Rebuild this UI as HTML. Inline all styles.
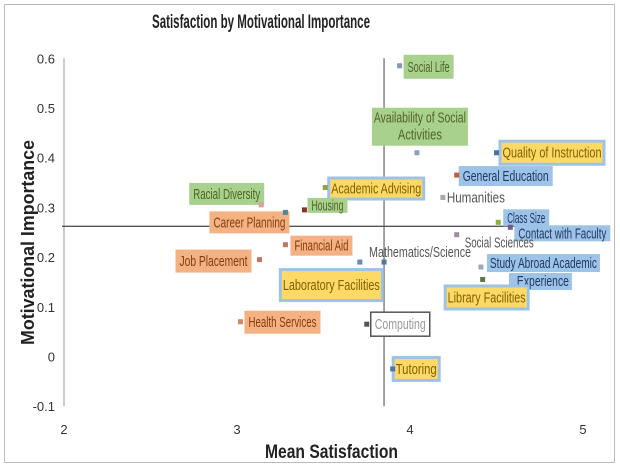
<!DOCTYPE html>
<html><head><meta charset="utf-8">
<style>
body{margin:0;background:#fff;}
svg{display:block;font-family:"Liberation Sans Narrow","Liberation Sans",sans-serif;}
</style></head>
<body>
<svg id="chart" width="620" height="466" xmlns="http://www.w3.org/2000/svg">
<rect x="4.5" y="4.5" width="610" height="458" fill="#fff" stroke="#bbb"/>
<text x="152" y="28" textLength="218" lengthAdjust="spacingAndGlyphs" font-size="19" font-weight="bold" fill="#222">Satisfaction by Motivational Importance</text>
<text x="265" y="458" textLength="133" lengthAdjust="spacingAndGlyphs" font-size="19" font-weight="bold" fill="#222">Mean Satisfaction</text>
<text transform="translate(34,345) rotate(-90)" x="0" y="0" textLength="205" lengthAdjust="spacingAndGlyphs" font-size="18" font-weight="bold" fill="#222">Motivational Importance</text>
<g id="axes"></g><g id="labels"></g><g id="marks"></g>
</svg>
<script>
const categories=["Social Life","Availability of Social Activities","Quality of Instruction","General Education","Humanities","Academic Advising","Racial Diversity","Housing","Career Planning","Class Size","Contact with Faculty","Social Sciences","Financial Aid","Job Placement","Mathematics/Science","Laboratory Facilities","Study Abroad Academic Experience","Library Facilities","Health Services","Computing","Tutoring"];
const satisfaction=[3.94,4.04,4.50,4.27,4.19,3.51,3.14,3.39,3.28,4.51,4.58,4.27,3.28,3.13,3.85,3.71,4.41,4.42,3.02,3.75,3.90];
const importance=[0.585,0.41,0.41,0.365,0.32,0.34,0.305,0.295,0.29,0.27,0.26,0.245,0.225,0.195,0.19,0.19,0.18,0.155,0.07,0.065,-0.025];
const xTicks=[2,3,4,5];
const yTicks=[-0.1,0,0.1,0.2,0.3,0.4,0.5,0.6];
const refX=3.85, refY=0.262;
const markColors=["#8a96b0","#8aa0c8","#4a6fa5","#c0603a","#aaa","#9aa040","#d9a0a0","#8b3030","#4a8a9a","#8ab040","#7a5a8a","#a08aa0","#c07860","#c07860","#4a78a8","#6a8ab0","#9aa8c0","#5a7a40","#d08a60","#555","#4a78a8"];
const labelStyle=["g","g","by","b","p","by","g","g","o","b","b","p","o","o","p","by","b2","by","o","w","by"];
const labelOff=[[4,-11,50,24],[-45,-45,96,38],[2,-13,107,26],[2,-9,94,20],[4,0,0,0],[2,-11,98,24],[-72,-22,75,22],[3,-12,40,15],[-76,-1,80,22],[5,-13,46,17],[4,-2,96,16],[8,8,0,0],[5,-9,62,20],[-84,-10,76,23],[-15,-10,0,0],[-81,6,105,34],[6,-13,113,36],[-39,5,86,26],[4,-11,76,23],[4,-12,59,24],[-1,-13,49,26]];
const plainLen={4:58,11:69,14:102};
const X0=64,X1=583,Y0=356.5,YS=497;
const sx=v=>X0+(v-2)/3*(X1-X0);
const sy=v=>Y0-v*YS;
const NS="http://www.w3.org/2000/svg";
function mk(tag,at,parent){const e=document.createElementNS(NS,tag);for(const k in at)e.setAttribute(k,at[k]);parent.appendChild(e);return e;}
const axes=document.getElementById('axes'),labels=document.getElementById('labels'),marks=document.getElementById('marks');
let l=mk('line',{x1:X0,x2:X0,y1:sy(0.6),y2:sy(-0.1),stroke:'#999'},axes);

yTicks.forEach(t=>{const e=mk('text',{x:55,y:sy(t)+5,'text-anchor':'end','font-size':13,fill:'#333'},axes);e.textContent=(t===0?'0':t.toFixed(1));
});
xTicks.forEach(t=>{const e=mk('text',{x:sx(t),y:434,'text-anchor':'middle','font-size':13,fill:'#333'},axes);e.textContent=t;
});
l=mk('line',{x1:sx(refX),x2:sx(refX),y1:sy(0.6),y2:sy(-0.1),stroke:'#666','stroke-width':1.2},axes);

l=mk('line',{x1:X0-2,x2:X1,y1:sy(refY),y2:sy(refY),stroke:'#555','stroke-width':1.4},axes);

const fills={g:'#a9d18e',o:'#f4b183',b:'#9dc3e6',w:'#fff'};
function txt(g,x,y,s,len,fill){const t=mk('text',{x:x,y:y,'font-size':15,fill:fill,textLength:len,lengthAdjust:'spacingAndGlyphs'},g);t.textContent=s;return t;}
categories.forEach((c,i)=>{
 const px=sx(satisfaction[i]),py=sy(importance[i]);const s=labelStyle[i];const o=labelOff[i];
 const g=mk('g',{},labels);
 
 
 const bx=px+o[0],by=py+o[1],w=o[2],h=o[3];
 let tc='#555';
 if(s==='g'||s==='o'||s==='b'){mk('rect',{x:bx,y:by,width:w,height:h,fill:fills[s]},g);tc=s==='g'?'#4f6228':(s==='o'?'#843c0c':'#1f3864');}
 if(s==='by'){mk('rect',{x:bx,y:by,width:w,height:h,fill:'#9dc3e6'},g);mk('rect',{x:bx+3,y:by+3,width:w-6,height:h-6,fill:'#ffd966'},g);tc='#7f6000';}
 if(s==='w'){mk('rect',{x:bx,y:by,width:w,height:h,fill:'#fff',stroke:'#555','stroke-width':1.5},g);tc='#999';}
 if(s==='b2'){mk('rect',{x:bx,y:by,width:w,height:18,fill:'#9dc3e6'},g);mk('rect',{x:bx+22,y:by+19,width:63,height:17,fill:'#9dc3e6'},g);tc='#1f3864';
  txt(g,bx+3,by+14,'Study Abroad Academic',107,tc);
  txt(g,bx+30,by+32,'Experience',52,tc);return;}
 if(i===1){txt(g,bx+2,by+15,'Availability of Social',92,tc);
  txt(g,bx+26,by+32,'Activities',44,tc);return;}
 if(s==='p'){txt(g,bx,by+5,c,plainLen[i],tc);return;}
 txt(g,bx+4,by+h/2+5,c,w-8,tc);
});
categories.forEach((c,i)=>{
 const r=mk('rect',{x:sx(satisfaction[i])-2.5,y:sy(importance[i])-2.5,width:5,height:5,fill:markColors[i]},marks);
 
 
});
</script>
</body></html>
